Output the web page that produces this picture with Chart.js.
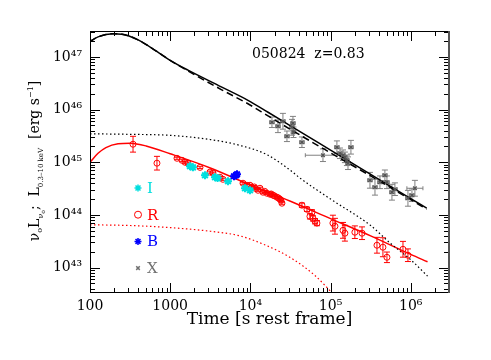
<!DOCTYPE html>
<html>
<head>
<meta charset="utf-8">
<script src="https://cdn.jsdelivr.net/npm/chart.js@4/dist/chart.umd.min.js"></script>
<style>
  html, body { margin: 0; padding: 0; background: #fff; }
</style>
</head>
<body>
<canvas id="chart" width="491" height="360"></canvas>
<script>
// ---- axis ticks ----
const xTickValues = [100, 1000, 1e4, 1e5, 1e6];
const xTickLabels = ['100', '1000', '10⁴', '10⁵', '10⁶'];
const yTickValues = [1e43, 1e44, 1e45, 1e46, 1e47];
const yTickLabels = ['10⁴³', '10⁴⁴', '10⁴⁵', '10⁴⁶', '10⁴⁷'];

// ---- R band (red circles) ----
const redT = [344, 684, 1216, 1403, 1531, 1667, 2355, 3133, 3420, 4178, 4550,
  8090, 9080, 9890, 10470, 11200, 11400, 12450, 13180, 14360, 15100, 16100, 17540,
  18200, 19140, 20000, 21480, 22400, 23390, 24000, 24770,
  43950, 50800, 58600, 55300, 60400, 64000, 67600,
  107000, 113500, 143000, 151000, 201000, 247000, 379000, 450000, 505000, 800000, 923000];
const redL = [2.2e45, 9.6e44, 1.19e45, 1.09e45, 1.0e45, 9.6e44, 8.0e44, 6.5e44, 6.2e44, 5.2e44, 4.75e44,
  4.0e44, 3.66e44, 3.66e44, 3.36e44, 3.4e44, 3.21e44, 2.94e44, 3.21e44, 2.7e44, 2.8e44, 2.58e44, 2.47e44,
  2.5e44, 2.37e44, 2.3e44, 2.17e44, 2.1e44, 1.99e44, 1.9e44, 1.67e44,
  1.53e44, 1.28e44, 1.12e44, 9.4e43, 8.6e43, 7.6e43, 7.0e43,
  7.0e43, 6.1e43, 5.1e43, 4.5e43, 4.7e43, 4.5e43, 2.66e43, 2.44e43, 1.57e43, 2.23e43, 1.72e43];
const redErr = [0.15, 0.13, 0.02, 0.02, 0.02, 0.02, 0.02, 0.02, 0.02, 0.02, 0.02,
  0.02, 0.02, 0.02, 0.02, 0.02, 0.02, 0.02, 0.02, 0.02, 0.02, 0.02, 0.02,
  0.02, 0.02, 0.02, 0.02, 0.02, 0.02, 0.02, 0.02,
  0.04, 0.04, 0.05, 0.05, 0.05, 0.05, 0.05,
  0.15, 0.15, 0.15, 0.15, 0.12, 0.12, 0.15, 0.18, 0.1, 0.15, 0.12];

// ---- I band (cyan) and B band (blue) ----
const cyanT = [1766, 1923, 2716, 3622, 3900, 5260, 8570, 9890];
const cyanL = [8.4e44, 8.0e44, 5.66e44, 5.19e44, 5.0e44, 4.37e44, 3.21e44, 2.94e44];
const blueT = [6250, 6610, 6810];
const blueL = [5.42e44, 5.66e44, 5.92e44];

// ---- X-ray 0.3-10 keV (gray) ----
const grayT = [18580, 22080, 25470, 28580, 33040, 33960, 34500, 43950, 80400, 120000, 131000, 143000,
  151000, 160000, 165000, 179500, 310000, 358000, 413000, 476000, 505000, 583000, 635000, 923000,
  1035000, 1127000];
const grayL = [5.74e45, 4.82e45, 6.0e45, 3.11e45, 4.61e45, 5.5e45, 3.71e45, 2.4e45, 1.36e45, 1.93e45, 1.48e45, 1.36e45,
  1.24e45, 1.09e45, 9.6e44, 1.93e45, 4.55e44, 3.36e44, 4.17e44, 5.66e44, 4.17e44, 2.7e44, 3.08e44, 2.07e44,
  2.37e44, 3.21e44];
const grayErr = [0.1, 0.12, 0.15, 0.1, 0.15, 0.13, 0.1, 0.1, 0.12, 0.12, 0.1, 0.1,
  0.1, 0.1, 0.12, 0.13, 0.15, 0.15, 0.12, 0.1, 0.12, 0.15, 0.12, 0.15,
  0.12, 0.15];
const grayTErr = [0.03, 0.03, 0.03, 0.03, 0.03, 0.03, 0.03, 0.03, 0.22, 0.03, 0.03, 0.03,
  0.03, 0.03, 0.03, 0.03, 0.03, 0.03, 0.03, 0.03, 0.03, 0.03, 0.03, 0.03,
  0.03, 0.1];

// ---- model curves ----
const xrayModelT = [100, 126, 194, 251, 398, 641, 986, 1667, 4335, 9333, 16600, 31623, 1e5, 316228, 1e6, 1.58e6];
const xrayModelL = [1.95e47, 2.4e47, 2.75e47, 2.7e47, 2.1e47, 1.35e47, 8.7e46, 5.6e46, 2.7e46, 1.5e46, 8.9e45, 4.9e45, 1.7e45, 5.9e44, 2.04e44, 1.35e44];
const xrayAltL = [1.95e47, 2.4e47, 2.75e47, 2.7e47, 2.1e47, 1.35e47, 8.7e46, 5.4e46, 2.4e46, 1.29e46, 7.6e45, 4.2e45, 1.51e45, 5.5e44, 1.95e44, 1.29e44];
const xrayCompT = [100, 316, 1000, 3162, 7413, 15849, 30903, 41687, 1e5, 316228, 549541, 1e6, 1.62e6];
const xrayCompL = [3.47e45, 3.39e45, 3.24e45, 2.7e45, 2.09e45, 1.41e45, 7.2e44, 5.0e44, 2.0e44, 6.3e43, 2.95e43, 1.41e43, 6.9e42];
const optModelT = [100, 126, 158, 224, 316, 501, 1000, 3162, 1e4, 31623, 1e5, 316228, 1e6, 1.62e6];
const optModelL = [1.0e45, 1.48e45, 1.9e45, 2.24e45, 2.29e45, 2.04e45, 1.45e45, 7.8e44, 3.7e44, 1.82e44, 8.5e43, 4.0e43, 1.78e43, 1.29e43];
const optCompT = [100, 316, 1000, 3162, 7413, 15849, 30903, 63096, 104713, 112200];
const optCompL = [6.5e43, 6.3e43, 5.75e43, 4.9e43, 4.0e43, 2.63e43, 1.58e43, 7.2e42, 3.3e42, 2.95e42];

const legendItems = [
  { text: 'I', color: '#00dede', style: 'star' },
  { text: 'R', color: '#ff0000', style: 'circle' },
  { text: 'B', color: '#0000ff', style: 'star' },
  { text: 'X', color: '#707070', style: 'crossRot' }
];

const FONT = "'DejaVu Serif', serif";

function pts(xs, ys) {
  return xs.map((v, i) => ({ x: v, y: ys[i] }));
}

// error bars in dex, drawn through the scales
const errorBars = {
  id: 'errorBars',
  beforeDatasetsDraw(chart) {
    const { ctx, chartArea: a, scales: { x, y } } = chart;
    ctx.save();
    ctx.beginPath();
    ctx.rect(a.left, a.top, a.right - a.left, a.bottom - a.top);
    ctx.clip();
    chart.data.datasets.forEach(ds => {
      if (!ds.errDex) return;
      ctx.strokeStyle = ds.barColor;
      ctx.lineWidth = 1;
      ctx.beginPath();
      ds.data.forEach((p, i) => {
        const px = x.getPixelForValue(p.x);
        const py = y.getPixelForValue(p.y);
        const e = ds.errDex[i];
        if (e > 0) {
          const top = y.getPixelForValue(p.y * Math.pow(10, e));
          const bot = y.getPixelForValue(p.y / Math.pow(10, e));
          ctx.moveTo(px, top); ctx.lineTo(px, bot);
          ctx.moveTo(px - 3, top); ctx.lineTo(px + 3, top);
          ctx.moveTo(px - 3, bot); ctx.lineTo(px + 3, bot);
        }
        const xe = ds.xErrDex ? ds.xErrDex[i] : 0;
        if (xe > 0) {
          const l = x.getPixelForValue(p.x / Math.pow(10, xe));
          const r = x.getPixelForValue(p.x * Math.pow(10, xe));
          ctx.moveTo(l, py); ctx.lineTo(r, py);
          ctx.moveTo(l, py - 2); ctx.lineTo(l, py + 2);
          ctx.moveTo(r, py - 2); ctx.lineTo(r, py + 2);
        }
      });
      ctx.stroke();
    });
    ctx.restore();
  }
};

// box with inward major/minor ticks on all four sides
const frameTicks = {
  id: 'frameTicks',
  afterDatasetsDraw(chart) {
    const { ctx, chartArea: a, scales: { x, y } } = chart;
    ctx.save();
    ctx.strokeStyle = '#000';
    ctx.lineWidth = 1;
    ctx.strokeRect(a.left + 0.5, a.top + 0.5, a.right - a.left - 1, a.bottom - a.top - 1);
    ctx.beginPath();
    for (let e = 2; e <= 6; e++) {
      for (let k = 1; k <= 9; k++) {
        const v = k * Math.pow(10, e);
        if (v < x.min || v > x.max) continue;
        const px = Math.round(x.getPixelForValue(v)) + 0.5;
        const len = k === 1 ? 10 : 5;
        ctx.moveTo(px, a.bottom); ctx.lineTo(px, a.bottom - len);
        ctx.moveTo(px, a.top); ctx.lineTo(px, a.top + len);
      }
    }
    for (let e = 42; e <= 47; e++) {
      for (let k = 1; k <= 9; k++) {
        const v = k * Math.pow(10, e);
        if (v < y.min || v > y.max) continue;
        const py = Math.round(y.getPixelForValue(v)) + 0.5;
        const len = k === 1 ? 10 : 5;
        ctx.moveTo(a.left, py); ctx.lineTo(a.left + len, py);
        ctx.moveTo(a.right, py); ctx.lineTo(a.right - len, py);
      }
    }
    ctx.stroke();
    // heavier right edge, as in the original
    ctx.strokeStyle = '#555';
    ctx.lineWidth = 2;
    ctx.beginPath();
    ctx.moveTo(a.right, a.top);
    ctx.lineTo(a.right, a.bottom);
    ctx.stroke();
    ctx.restore();
  }
};

// in-plot legend, burst label and the rotated y title with sub/superscripts
const labels = {
  id: 'labels',
  afterDraw(chart) {
    const { ctx } = chart;
    ctx.save();
    // legend
    legendItems.forEach((item, i) => {
      const lx = 138, ly = 188 + i * 26.7;
      ctx.strokeStyle = item.color;
      ctx.fillStyle = item.style === 'circle' ? 'rgba(0,0,0,0)' : item.color;
      ctx.lineWidth = item.style === 'circle' ? 1 : 1.5;
      Chart.helpers.drawPoint(ctx, {
        pointStyle: item.style, radius: item.style === 'crossRot' ? 2.5 : 3.5, rotation: 0, borderWidth: ctx.lineWidth
      }, lx, ly);
      ctx.fillStyle = item.color;
      ctx.font = '15px ' + FONT;
      ctx.textBaseline = 'middle';
      ctx.textAlign = 'left';
      ctx.fillText(item.text, lx + 9, ly + 1);
    });

    // burst label
    ctx.fillStyle = '#000';
    ctx.font = '14px ' + FONT;
    ctx.textBaseline = 'alphabetic';
    ctx.textAlign = 'left';
    ctx.fillText('050824  z=0.83', 252, 58);

    // y title
    const parts = [
      { t: 'ν', s: 14, dy: 0 },
      { t: 'o', s: 8, dy: 3 },
      { t: 'L', s: 14, dy: 0 },
      { t: 'ν', s: 8, dy: 4 },
      { t: 'o', s: 6, dy: 6 },
      { t: ';  L', s: 14, dy: 0 },
      { t: '0.3–10 keV', s: 7, dy: 4 },
      { t: '  [erg s', s: 14, dy: 0 },
      { t: '−1', s: 8, dy: -6 },
      { t: ']', s: 14, dy: 0 }
    ];
    let total = 0;
    parts.forEach(p => { ctx.font = p.s + 'px ' + FONT; p.w = ctx.measureText(p.t).width; total += p.w; });
    ctx.translate(39, 161);
    ctx.rotate(-Math.PI / 2);
    let cx = -total / 2;
    parts.forEach(p => {
      ctx.font = p.s + 'px ' + FONT;
      ctx.fillText(p.t, cx, p.dy);
      cx += p.w;
    });
    ctx.restore();
  }
};

const lineDs = (label, xs, ys, color, dash, width) => ({
  label: label,
  data: pts(xs, ys),
  showLine: true,
  borderColor: color,
  borderWidth: width,
  borderDash: dash,
  pointRadius: 0,
  cubicInterpolationMode: 'monotone',
  fill: false
});

new Chart(document.getElementById('chart'), {
  type: 'scatter',
  data: {
    datasets: [
      {
        label: 'B', data: pts(blueT, blueL), pointStyle: 'star', pointRadius: 4,
        borderColor: '#0000ff', backgroundColor: '#0000ff', pointBorderWidth: 2
      },
      {
        label: 'I', data: pts(cyanT, cyanL), pointStyle: 'star', pointRadius: 4,
        borderColor: '#00dede', backgroundColor: '#00dede', pointBorderWidth: 2
      },
      {
        label: 'R', data: pts(redT, redL), pointStyle: 'circle', pointRadius: 3,
        borderColor: '#ff0000', backgroundColor: 'rgba(0,0,0,0)', pointBorderWidth: 1,
        errDex: redErr, barColor: '#ff0000'
      },
      {
        label: 'X', data: pts(grayT, grayL), pointStyle: 'crossRot', pointRadius: 2.5,
        borderColor: '#555555', backgroundColor: '#555555', pointBorderWidth: 1.5,
        errDex: grayErr, xErrDex: grayTErr, barColor: '#808080'
      },
      lineDs('X model', xrayModelT, xrayModelL, '#000000', [], 1.5),
      lineDs('X model alt', xrayModelT, xrayAltL, '#000000', [7, 4], 1.5),
      lineDs('X component', xrayCompT, xrayCompL, '#000000', [1.5, 2.5], 1.2),
      lineDs('R model', optModelT, optModelL, '#ff0000', [], 1.5),
      lineDs('R component', optCompT, optCompL, '#ff0000', [1.5, 2.5], 1.2)
    ]
  },
  options: {
    responsive: false,
    animation: false,
    devicePixelRatio: 1,
    layout: { padding: { top: 31, right: 42, left: 0, bottom: 0 } },
    plugins: {
      legend: { display: false },
      tooltip: { enabled: false }
    },
    scales: {
      x: {
        type: 'logarithmic',
        position: 'bottom',
        min: 100,
        max: 3e6,
        afterBuildTicks: s => { s.ticks = xTickValues.map(v => ({ value: v })); },
        afterFit: s => { s.height = 67; },
        grid: { display: false, drawTicks: false },
        border: { display: false },
        ticks: {
          autoSkip: false,
          maxRotation: 0,
          padding: 5,
          color: '#000',
          font: { family: FONT, size: 14 },
          callback: (v, i) => xTickLabels[i]
        },
        title: {
          display: true,
          text: 'Time [s rest frame]',
          color: '#000',
          font: { family: FONT, size: 17 },
          padding: { top: 0, bottom: 30 }
        }
      },
      y: {
        type: 'logarithmic',
        position: 'left',
        min: 3.3e42,
        max: 3.1e47,
        afterBuildTicks: s => { s.ticks = yTickValues.map(v => ({ value: v })); },
        afterFit: s => { s.width = 90; },
        grid: { display: false, drawTicks: false },
        border: { display: false },
        ticks: {
          autoSkip: false,
          padding: 8,
          color: '#000',
          font: { family: FONT, size: 14 },
          callback: (v, i) => yTickLabels[i]
        }
      }
    }
  },
  plugins: [errorBars, frameTicks, labels]
});
</script>
</body>
</html>
